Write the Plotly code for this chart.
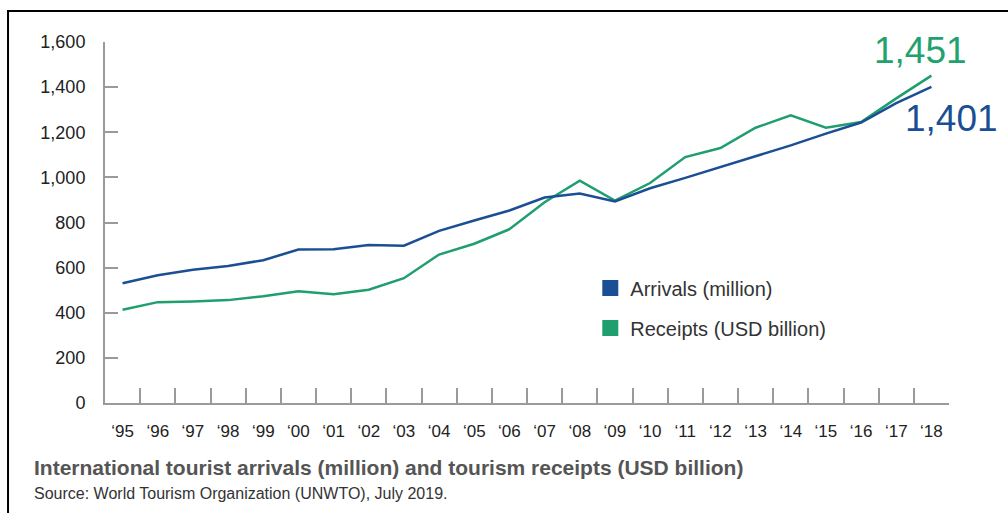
import plotly.graph_objects as go

years = ["\u201895", "\u201896", "\u201897", "\u201898", "\u201899", "\u201800", "\u201801", "\u201802",
         "\u201803", "\u201804", "\u201805", "\u201806", "\u201807", "\u201808", "\u201809", "\u201810",
         "\u201811", "\u201812", "\u201813", "\u201814", "\u201815", "\u201816", "\u201817", "\u201818"]
arrivals = [531, 566, 591, 607, 633, 680, 681, 700, 697, 763, 809, 853,
            911, 928, 893, 952, 998, 1046, 1096, 1142, 1194, 1243, 1329, 1401]
receipts = [413, 447, 450, 456, 473, 495, 482, 502, 553, 658, 706, 770,
            890, 985, 897, 975, 1090, 1130, 1220, 1275, 1220, 1245, 1350, 1451]
y_ticks = [0, 200, 400, 600, 800, 1000, 1200, 1400, 1600]
y_labels = ["0", "200", "400", "600", "800", "1,000", "1,200", "1,400", "1,600"]

BLUE = "#1b4f93"
GREEN = "#1f9e6e"
AXIS = "#9a9a9a"
FONT = "Liberation Sans, Arial, sans-serif"

fig = go.Figure()
fig.add_trace(go.Scatter(x=years, y=receipts, mode="lines", line=dict(color=GREEN, width=2.5),
                         showlegend=False, hoverinfo="x+y"))
fig.add_trace(go.Scatter(x=years, y=arrivals, mode="lines", line=dict(color=BLUE, width=2.5),
                         showlegend=False, hoverinfo="x+y"))
# legend entries (square markers)
fig.add_trace(go.Scatter(x=[None], y=[None], mode="markers", name="Arrivals (million)",
                         marker=dict(symbol="square", size=16, color=BLUE), legend="legend"))
fig.add_trace(go.Scatter(x=[None], y=[None], mode="markers", name="Receipts (USD billion)",
                         marker=dict(symbol="square", size=16, color=GREEN), legend="legend2"))

fig.add_annotation(x=years[-1], y=receipts[-1], text="1,451", showarrow=False,
                   xshift=-11, yshift=25, font=dict(size=37, color="#1fa26e", family=FONT))
fig.add_annotation(x=years[-1], y=arrivals[-1], text="1,401", showarrow=False,
                   xshift=20, yshift=-32, font=dict(size=37, color=BLUE, family=FONT))

fig.add_annotation(xref="paper", yref="paper", x=-0.086, y=-0.178, xanchor="left", yanchor="middle",
                   text="<b>International tourist arrivals (million) and tourism receipts (USD billion)</b>",
                   showarrow=False, font=dict(size=21, color="#555555", family=FONT))
fig.add_annotation(xref="paper", yref="paper", x=-0.086, y=-0.25, xanchor="left", yanchor="middle",
                   text="Source: World Tourism Organization (UNWTO), July 2019.",
                   showarrow=False, font=dict(size=16, color="#333333", family=FONT))

# outer frame
fig.add_shape(type="rect", xref="paper", yref="paper", x0=-0.1149, x1=1.2, y0=-0.6, y1=1.0859,
              line=dict(color="black", width=2), layer="below")

legend_common = dict(bgcolor="rgba(0,0,0,0)", font=dict(size=20, color="#333333", family=FONT),
                     xanchor="left", yanchor="middle")
fig.update_layout(
    width=1008, height=513,
    margin=dict(l=105, r=59, t=42, b=110),
    paper_bgcolor="white", plot_bgcolor="white",
    font=dict(family=FONT, color="#222222"),
    legend=dict(x=0.575, y=0.3186, **legend_common),
    legend2=dict(x=0.575, y=0.2078, **legend_common),
    xaxis=dict(type="category", tickson="boundaries", ticks="inside", ticklen=15, tickwidth=2,
               tickcolor=AXIS, showline=True, linecolor=AXIS, linewidth=2, showgrid=False,
               zeroline=False, tickfont=dict(size=17, color="#222222"), ticklabelstandoff=12,
               range=[-0.5, len(years) - 0.5]),
    yaxis=dict(range=[0, 1600], tickvals=y_ticks, ticktext=y_labels, ticks="inside", ticklen=13,
               tickwidth=2, tickcolor=AXIS, showline=True, linecolor=AXIS, linewidth=2,
               showgrid=False, zeroline=False, tickfont=dict(size=18, color="#222222"),
               ticklabelstandoff=14),
)
fig.write_html("out.html")
